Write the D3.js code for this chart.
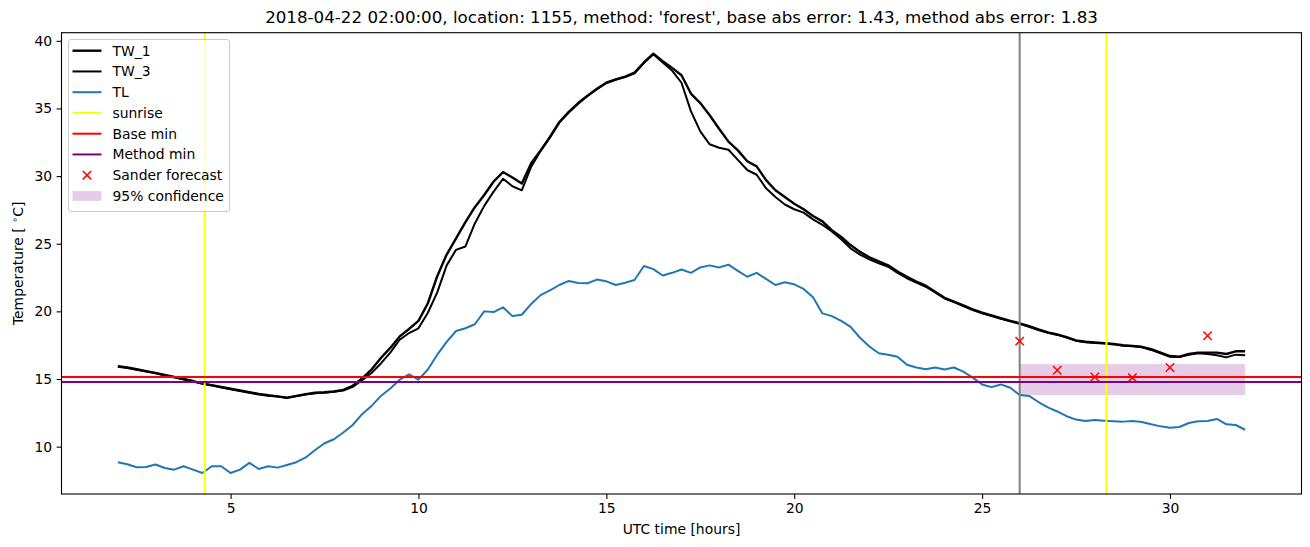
<!DOCTYPE html>
<html>
<head>
<meta charset="utf-8">
<script src="https://cdn.jsdelivr.net/npm/d3@7"></script>
<style>
  body { margin: 0; background: #fff; }
  text { font-family: "DejaVu Sans", sans-serif; }
</style>
</head>
<body>
<script>
const width = 1310, height = 547;

// samples every 15 min, from 02:00 to 32:00 (hours since midnight, UTC)
const hours = d3.range(2, 32.001, 0.25);

const tw1 = [15.95, 15.85, 15.72, 15.58, 15.45, 15.30, 15.15, 15.00, 14.85, 14.68, 14.55, 14.42, 14.28, 14.15, 14.02, 13.90,
  13.80, 13.72, 13.62, 13.75, 13.88, 13.98, 14.02, 14.08, 14.20, 14.50, 15.05, 15.70, 16.55, 17.30, 18.15, 18.70,
  19.30, 20.60, 22.60, 24.20, 25.40, 26.60, 27.70, 28.60, 29.60, 30.30, 29.90, 29.45, 30.95, 31.90, 32.90, 34.00,
  34.75, 35.40, 35.95, 36.45, 36.90, 37.15, 37.35, 37.65, 38.40, 39.05, 38.50, 38.00, 37.45, 36.10, 35.40, 34.50,
  33.50, 32.55, 31.90, 31.10, 30.72, 29.70, 28.95, 28.45, 27.95, 27.55, 27.05, 26.65, 26.00, 25.50, 24.90, 24.40,
  24.00, 23.70, 23.40, 22.95, 22.55, 22.20, 21.90, 21.45, 21.00, 20.72, 20.45, 20.15, 19.90, 19.70, 19.49, 19.30,
  19.12, 18.90, 18.66, 18.45, 18.30, 18.10, 17.85, 17.75, 17.70, 17.65, 17.60, 17.50, 17.45, 17.38, 17.20, 16.95,
  16.70, 16.65, 16.85, 16.95, 16.95, 16.95, 16.85, 17.05, 17.05];

const tw3 = [15.90, 15.82, 15.68, 15.55, 15.42, 15.26, 15.12, 14.97, 14.82, 14.65, 14.52, 14.38, 14.25, 14.12, 13.98, 13.86,
  13.76, 13.70, 13.60, 13.72, 13.85, 13.95, 13.98, 14.05, 14.15, 14.42, 14.92, 15.45, 16.15, 16.95, 17.90, 18.40,
  18.75, 19.90, 21.40, 23.40, 24.55, 24.80, 26.50, 27.80, 28.85, 29.80, 29.25, 28.95, 30.70, 31.85, 32.85, 33.95,
  34.70, 35.35, 35.92, 36.42, 36.88, 37.12, 37.32, 37.60, 38.35, 39.00, 38.40, 37.80, 36.90, 34.80, 33.30, 32.35,
  32.10, 31.95, 31.20, 30.45, 30.10, 29.10, 28.45, 27.90, 27.55, 27.30, 26.80, 26.40, 25.90, 25.33, 24.66, 24.20,
  23.85, 23.55, 23.30, 22.85, 22.45, 22.12, 21.82, 21.40, 20.95, 20.68, 20.40, 20.10, 19.86, 19.66, 19.45, 19.26,
  19.08, 18.86, 18.62, 18.42, 18.26, 18.06, 17.82, 17.72, 17.66, 17.62, 17.56, 17.46, 17.42, 17.34, 17.15, 16.90,
  16.65, 16.62, 16.80, 16.90, 16.85, 16.75, 16.60, 16.80, 16.75];

const tl = [8.85, 8.70, 8.48, 8.50, 8.68, 8.42, 8.30, 8.55, 8.30, 8.05, 8.55, 8.55, 8.05, 8.30, 8.80, 8.35,
  8.55, 8.45, 8.65, 8.85, 9.20, 9.75, 10.25, 10.55, 11.05, 11.60, 12.40, 13.00, 13.75, 14.30, 14.95, 15.35,
  14.95, 15.70, 16.80, 17.75, 18.55, 18.75, 19.05, 20.00, 19.95, 20.30, 19.65, 19.75, 20.55, 21.20, 21.55, 21.95,
  22.25, 22.10, 22.08, 22.35, 22.22, 21.95, 22.12, 22.32, 23.35, 23.12, 22.65, 22.85, 23.10, 22.85, 23.25, 23.40,
  23.25, 23.45, 23.00, 22.56, 22.85, 22.40, 21.95, 22.15, 22.00, 21.66, 21.05, 19.85, 19.65, 19.30, 18.85, 18.05,
  17.40, 16.90, 16.80, 16.65, 16.05, 15.85, 15.72, 15.85, 15.70, 15.85, 15.55, 15.10, 14.60, 14.40, 14.60, 14.35,
  13.82, 13.75, 13.30, 12.90, 12.60, 12.25, 12.00, 11.90, 11.97, 11.92, 11.88, 11.85, 11.90, 11.82, 11.65, 11.50,
  11.40, 11.45, 11.75, 11.88, 11.90, 12.05, 11.65, 11.60, 11.25];

const sunrise = [4.31, 28.31];
const forecastStart = 26;
const baseMin = 15.15;
const methodMin = 14.78;
const sanderHours = [26, 27, 28, 29, 30, 31];
const sanderValues = [17.8, 15.65, 15.15, 15.1, 15.85, 18.2];
const confHours = [26, 32];
const confLow = 13.82, confHigh = 16.1;

const xTicks = [5, 10, 15, 20, 25, 30];
const yTicks = [10, 15, 20, 25, 30, 35, 40];

const mLeft = 61.5, mRight = 1301.5, mTop = 32.7, mBottom = 494;

const allY = tw1.concat(tw3, tl, sanderValues, [confLow, confHigh]);
const [xmin, xmax] = d3.extent(hours);
const [ymin, ymax] = d3.extent(allY);
const xpad = (xmax - xmin) * 0.05, ypad = (ymax - ymin) * 0.05;

const x = d3.scaleLinear().domain([xmin - xpad, xmax + xpad]).range([mLeft, mRight]);
const y = d3.scaleLinear().domain([ymin - ypad, ymax + ypad]).range([mBottom, mTop]);

const svg = d3.select('body').append('svg')
  .attr('width', width)
  .attr('height', height);

svg.append('defs').append('clipPath')
  .attr('id', 'plot')
  .append('rect')
  .attr('x', mLeft).attr('y', mTop)
  .attr('width', mRight - mLeft).attr('height', mBottom - mTop);

const plot = svg.append('g').attr('clip-path', 'url(#plot)');

// 95% confidence band (drawn below lines)
plot.append('rect')
  .attr('x', x(confHours[0]))
  .attr('width', x(confHours[1]) - x(confHours[0]))
  .attr('y', y(confHigh))
  .attr('height', y(confLow) - y(confHigh))
  .attr('fill', 'purple')
  .attr('fill-opacity', 0.2);

const line = vals => d3.line()
  .x((d, i) => x(hours[i]))
  .y(d => y(d))(vals);

plot.append('path').attr('d', line(tw1))
  .attr('fill', 'none').attr('stroke', 'black').attr('stroke-width', 2.4)
  .attr('stroke-linejoin', 'round');
plot.append('path').attr('d', line(tw3))
  .attr('fill', 'none').attr('stroke', 'black').attr('stroke-width', 2)
  .attr('stroke-linejoin', 'round');
plot.append('path').attr('d', line(tl))
  .attr('fill', 'none').attr('stroke', '#1f77b4').attr('stroke-width', 2)
  .attr('stroke-linejoin', 'round');

plot.append('line')
  .attr('x1', x(forecastStart)).attr('x2', x(forecastStart))
  .attr('y1', mTop).attr('y2', mBottom)
  .attr('stroke', 'gray').attr('stroke-width', 2);

plot.selectAll('.sunrise')
  .data(sunrise)
  .join('line')
  .attr('class', 'sunrise')
  .attr('x1', d => x(d)).attr('x2', d => x(d))
  .attr('y1', mTop).attr('y2', mBottom)
  .attr('stroke', 'yellow').attr('stroke-width', 2);

plot.append('line')
  .attr('x1', mLeft).attr('x2', mRight)
  .attr('y1', y(baseMin)).attr('y2', y(baseMin))
  .attr('stroke', 'red').attr('stroke-width', 2);
plot.append('line')
  .attr('x1', mLeft).attr('x2', mRight)
  .attr('y1', y(methodMin)).attr('y2', y(methodMin))
  .attr('stroke', 'purple').attr('stroke-width', 2);

const cross = 'M-4.2,-4.2L4.2,4.2M-4.2,4.2L4.2,-4.2';
plot.selectAll('.sander')
  .data(sanderValues)
  .join('path')
  .attr('class', 'sander')
  .attr('transform', (d, i) => `translate(${x(sanderHours[i])},${y(d)})`)
  .attr('d', cross)
  .attr('stroke', 'red').attr('stroke-width', 1.5).attr('fill', 'none');

// axes
const xAxis = svg.append('g')
  .attr('transform', `translate(0,${mBottom})`)
  .call(d3.axisBottom(x).tickValues(xTicks).tickSize(4.9).tickPadding(4.5));
const yAxis = svg.append('g')
  .attr('transform', `translate(${mLeft},0)`)
  .call(d3.axisLeft(y).tickValues(yTicks).tickSize(4.9).tickPadding(4.5));

[xAxis, yAxis].forEach(a => {
  a.select('.domain').remove();
  a.selectAll('line').attr('stroke', 'black').attr('stroke-width', 1.1);
  a.selectAll('text')
    .attr('font-family', '"DejaVu Sans", sans-serif')
    .attr('font-size', 13.9)
    .attr('fill', 'black');
});

svg.append('rect')
  .attr('x', mLeft).attr('y', mTop)
  .attr('width', mRight - mLeft).attr('height', mBottom - mTop)
  .attr('fill', 'none').attr('stroke', 'black').attr('stroke-width', 1.1);

// labels
svg.append('text')
  .attr('x', (mLeft + mRight) / 2).attr('y', 23)
  .attr('text-anchor', 'middle')
  .attr('font-size', 16.7)
  .text("2018-04-22 02:00:00, location: 1155, method: 'forest', base abs error: 1.43, method abs error: 1.83");

svg.append('text')
  .attr('x', (mLeft + mRight) / 2).attr('y', 534)
  .attr('text-anchor', 'middle')
  .attr('font-size', 13.9)
  .text('UTC time [hours]');

const yl = svg.append('text')
  .attr('transform', `translate(23,${(mTop + mBottom) / 2}) rotate(-90)`)
  .attr('text-anchor', 'middle')
  .attr('font-size', 13.9);
yl.append('tspan').text('Temperature [ ');
yl.append('tspan').attr('font-size', 9.7).attr('dy', -5).text('∘');
yl.append('tspan').attr('dy', 5).text('C]');

// legend
const legendItems = [
  { label: 'TW_1', type: 'line', color: 'black', w: 2.4 },
  { label: 'TW_3', type: 'line', color: 'black', w: 2 },
  { label: 'TL', type: 'line', color: '#1f77b4', w: 2 },
  { label: 'sunrise', type: 'line', color: 'yellow', w: 2 },
  { label: 'Base min', type: 'line', color: 'red', w: 2 },
  { label: 'Method min', type: 'line', color: 'purple', w: 2 },
  { label: 'Sander forecast', type: 'marker', color: 'red' },
  { label: '95% confidence', type: 'patch', color: 'purple' }
];

const lg = svg.append('g').attr('transform', 'translate(68.5,39.5)');
lg.append('rect')
  .attr('width', 161).attr('height', 172)
  .attr('rx', 2.5)
  .attr('fill', 'white').attr('fill-opacity', 0.8)
  .attr('stroke', '#cccccc').attr('stroke-width', 1);

const row = lg.selectAll('g.item')
  .data(legendItems)
  .join('g')
  .attr('class', 'item')
  .attr('transform', (d, i) => `translate(0,${11.2 + i * 20.75})`);

row.filter(d => d.type === 'line').append('line')
  .attr('x1', 4).attr('x2', 33)
  .attr('stroke', d => d.color).attr('stroke-width', d => d.w);
row.filter(d => d.type === 'marker').append('path')
  .attr('transform', 'translate(18.5,0)')
  .attr('d', cross)
  .attr('stroke', d => d.color).attr('stroke-width', 1.5);
row.filter(d => d.type === 'patch').append('rect')
  .attr('x', 4).attr('y', -4.9).attr('width', 29).attr('height', 9.8)
  .attr('fill', d => d.color).attr('fill-opacity', 0.2);
row.append('text')
  .attr('x', 44).attr('dy', '0.35em')
  .attr('font-size', 13.9)
  .text(d => d.label);
</script>
</body>
</html>
